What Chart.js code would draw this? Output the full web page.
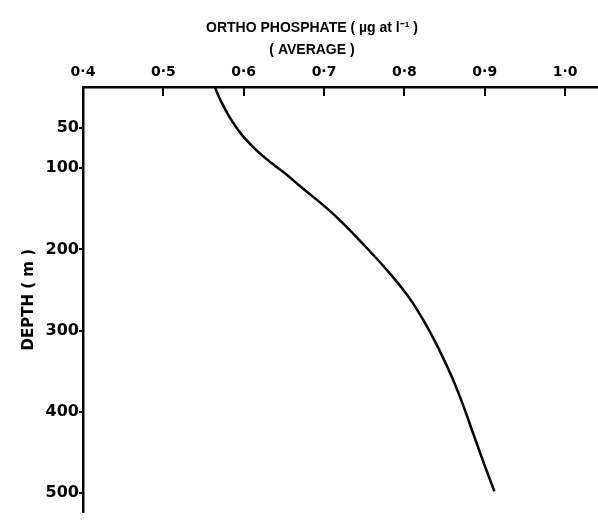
<!DOCTYPE html>
<html>
<head>
<meta charset="utf-8">
<script src="https://cdn.jsdelivr.net/npm/chart.js@4/dist/chart.umd.min.js"></script>
<style>
  html, body { margin: 0; padding: 0; background: #fff; }
  #wrap { width: 598px; height: 522px; }
</style>
</head>
<body>
<div id="wrap"><canvas id="c" width="598" height="522"></canvas></div>
<script>
// Average ortho-phosphate profile against depth
const depthM = [0, 18, 38, 58, 78, 94, 106, 122, 156, 198, 232, 261, 293, 325, 357, 389, 425, 461, 498];
const phosphate = [0.564, 0.572, 0.583, 0.597, 0.616, 0.635, 0.651, 0.670, 0.711, 0.753, 0.784, 0.807, 0.827, 0.844, 0.859, 0.872, 0.885, 0.898, 0.912];

const phosphateTicks = [0.4, 0.5, 0.6, 0.7, 0.8, 0.9, 1.0];
const depthTicks = [50, 100, 200, 300, 400, 500];

const FONT = "'DejaVu Sans', sans-serif";
const TITLE_FONT = "'Liberation Sans', Arial, sans-serif";

// Inward tick marks on the top (phosphate) axis
const innerTicks = {
  id: 'innerTicks',
  afterDraw(chart) {
    const ctx = chart.ctx;
    const xs = chart.scales.x;
    const top = chart.chartArea.top;
    ctx.save();
    ctx.strokeStyle = '#000';
    ctx.lineWidth = 2;
    phosphateTicks.slice(1).forEach(v => {
      const px = Math.round(xs.getPixelForValue(v));
      ctx.beginPath();
      ctx.moveTo(px, top);
      ctx.lineTo(px, top + 9);
      ctx.stroke();
    });
    ctx.restore();
  }
};

new Chart(document.getElementById('c'), {
  type: 'line',
  data: {
    datasets: [{
      data: depthM.map((d, i) => ({ x: phosphate[i], y: d })),
      borderColor: '#000',
      borderWidth: 2.5,
      pointRadius: 0,
      tension: 0.4,
      fill: false
    }]
  },
  options: {
    indexAxis: 'y',
    responsive: false,
    animation: false,
    layout: { padding: { left: 26, top: 0, right: 0, bottom: 0 } },
    plugins: {
      legend: { display: false },
      tooltip: { enabled: false },
      title: {
        display: true,
        text: 'ORTHO PHOSPHATE ( \u00B5g at l\u207B\u00B9 )',
        color: '#000',
        font: { family: TITLE_FONT, size: 14, weight: 'bold', lineHeight: 1.2 },
        padding: { top: 19.6, bottom: 2 }
      },
      subtitle: {
        display: true,
        text: '( AVERAGE )',
        color: '#000',
        font: { family: TITLE_FONT, size: 14, weight: 'bold', lineHeight: 1.2 },
        padding: { top: 3.2, bottom: 0 }
      }
    },
    scales: {
      x: {
        type: 'linear',
        position: 'top',
        min: 0.4,
        max: 1.041,
        afterBuildTicks: s => { s.ticks = phosphateTicks.map(v => ({ value: v })); },
        afterFit: s => { s.height = 28.6; },
        grid: { display: false, drawTicks: false },
        border: { display: true, color: '#000', width: 2.5 },
        ticks: {
          color: '#000',
          padding: 6,
          maxRotation: 0,
          font: { family: FONT, size: 14, weight: 'bold' },
          callback: v => v.toFixed(1).replace('.', '\u00B7')
        }
      },
      y: {
        type: 'linear',
        position: 'left',
        reverse: true,
        min: 0,
        max: 524,
        afterBuildTicks: s => { s.ticks = depthTicks.map(v => ({ value: v })); },
        afterFit: s => { s.width = 57; },
        grid: { display: true, drawOnChartArea: false, drawTicks: true, tickLength: 4, color: '#000', lineWidth: 2 },
        border: { display: true, color: '#000', width: 2.5 },
        ticks: {
          color: '#000',
          padding: 0,
          font: { family: FONT, size: 16, weight: 'bold' }
        },
        title: {
          display: true,
          text: 'DEPTH ( m )',
          color: '#000',
          font: { family: FONT, size: 15, weight: 'bold', lineHeight: 1.2 },
          padding: { top: -6, bottom: 0 }
        }
      }
    }
  },
  plugins: [innerTicks]
});
</script>
</body>
</html>
